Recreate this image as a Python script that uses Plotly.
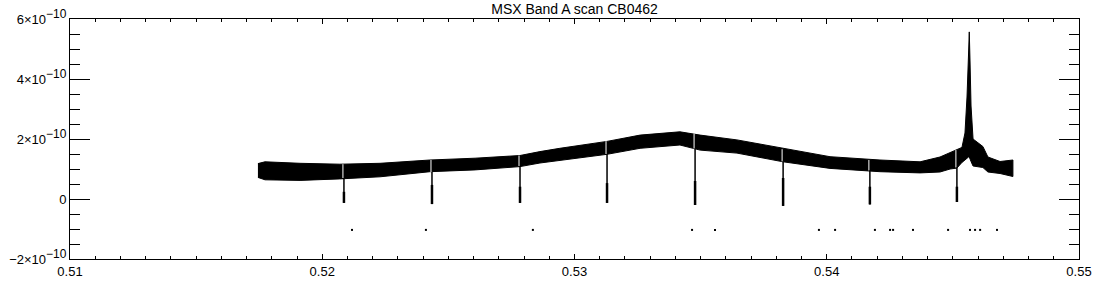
import plotly.graph_objects as go

SCALE = 1e-10  # values below are in units of 1e-10

# Envelope of the noisy scan (wavelength, upper edge, lower edge)
band_x = [0.51745, 0.51773, 0.51912, 0.52070, 0.52229, 0.52427, 0.52606, 0.52784,
          0.52863, 0.52942, 0.53129, 0.53260, 0.53418, 0.53498, 0.53644, 0.53827,
          0.54013, 0.54211, 0.54370, 0.54449, 0.54489, 0.54516, 0.54536, 0.54548,
          0.54556, 0.54562, 0.54565, 0.54568, 0.54572, 0.54580, 0.54600, 0.54619,
          0.54639, 0.54687, 0.54738]
band_upper = [1.18, 1.24, 1.19, 1.16, 1.19, 1.30, 1.36, 1.45,
              1.58, 1.69, 1.92, 2.13, 2.24, 2.13, 1.97, 1.69,
              1.41, 1.30, 1.24, 1.40, 1.55, 1.63, 1.72, 2.20,
              3.40, 4.80, 5.57, 4.60, 3.10, 2.00, 1.88, 1.75,
              1.40, 1.25, 1.30]
band_lower = [0.72, 0.64, 0.62, 0.67, 0.74, 0.91, 0.97, 1.08,
              1.20, 1.30, 1.49, 1.69, 1.80, 1.63, 1.53, 1.24,
              1.02, 0.91, 0.87, 0.90, 1.00, 1.03, 1.22, 1.30,
              1.35, 1.40, 1.40, 1.35, 1.25, 1.10, 1.07, 1.05,
              0.90, 0.85, 0.75]

# Downward spikes
spike_x = [0.52086, 0.52435, 0.52784, 0.53129, 0.53478, 0.53827, 0.54171, 0.54516]
spike_top = [0.70, 0.90, 1.10, 1.50, 1.68, 1.25, 0.95, 1.05]
spike_band_top = [1.16, 1.30, 1.45, 1.93, 2.18, 1.66, 1.30, 1.63]
spike_thick_top = [0.24, 0.47, 0.41, 0.53, 0.60, 0.70, 0.41, 0.41]
spike_bottom = [-0.13, -0.17, -0.13, -0.13, -0.20, -0.23, -0.18, -0.10]

# Isolated low points
dot_x = [0.52118, 0.52411, 0.52835, 0.53466, 0.53557, 0.53969, 0.54033, 0.54191,
         0.54251, 0.54263, 0.54342, 0.54481, 0.54568, 0.54588, 0.54608, 0.54675]
dot_y = [-1.03] * len(dot_x)

x_ticks = [0.51, 0.52, 0.53, 0.54, 0.55]
x_ticktext = ["0.51", "0.52", "0.53", "0.54", "0.55"]
y_ticks = [-2, 0, 2, 4, 6]
SUP = "<sup><span style='font-size:12px'>\u221210</span></sup>"
y_ticktext = ["\u22122\u00d710" + SUP, "0",
              "2\u00d710" + SUP, "4\u00d710" + SUP, "6\u00d710" + SUP]

fig = go.Figure()

# band polygon
poly_x = band_x + band_x[::-1]
poly_y = [v * SCALE for v in band_upper] + [v * SCALE for v in band_lower[::-1]]
fig.add_trace(go.Scatter(x=poly_x, y=poly_y, mode="lines", fill="toself",
                         fillcolor="black", line=dict(color="black", width=1),
                         hoverinfo="skip", showlegend=False))

# white gaps through the band at spike positions
gx, gy = [], []
for sx, lo, hi in zip(spike_x, spike_top, spike_band_top):
    gx += [sx - 0.00004, sx - 0.00004, None]
    gy += [lo * SCALE, hi * SCALE, None]
fig.add_trace(go.Scatter(x=gx, y=gy, mode="lines", line=dict(color="white", width=1),
                         hoverinfo="skip", showlegend=False))

# thin spikes
sxs, sys_ = [], []
for sx, top, bot in zip(spike_x, spike_top, spike_bottom):
    sxs += [sx, sx, None]
    sys_ += [top * SCALE, bot * SCALE, None]
fig.add_trace(go.Scatter(x=sxs, y=sys_, mode="lines", line=dict(color="black", width=1.5),
                         hoverinfo="skip", showlegend=False))

# thicker lower part of spikes
txs, tys = [], []
for sx, top, bot in zip(spike_x, spike_thick_top, spike_bottom):
    txs += [sx, sx, None]
    tys += [top * SCALE, bot * SCALE, None]
fig.add_trace(go.Scatter(x=txs, y=tys, mode="lines", line=dict(color="black", width=2.5),
                         hoverinfo="skip", showlegend=False))

# dots
fig.add_trace(go.Scatter(x=dot_x, y=[v * SCALE for v in dot_y], mode="markers",
                         marker=dict(symbol="square", size=2, color="black",
                                     line=dict(width=0)),
                         hoverinfo="skip", showlegend=False))

axis_common = dict(showline=True, linecolor="black", linewidth=1, mirror="ticks",
                   ticks="inside", tickcolor="black", tickwidth=1,
                   showgrid=False, zeroline=False, automargin=False)

fig.update_layout(
    width=1100, height=300,
    margin=dict(l=70, r=21, t=19, b=41, pad=0),
    paper_bgcolor="white", plot_bgcolor="white",
    title=dict(text="MSX Band A scan CB0462", x=0.5, xref="paper", xanchor="center",
               y=1 - 9 / 300, yanchor="middle", yref="container",
               font=dict(family="Liberation Sans", size=14, color="black")),
    xaxis=dict(range=[0.51, 0.55], tickmode="array", tickvals=x_ticks,
               ticktext=x_ticktext, ticklen=5,
               tickfont=dict(family="Liberation Sans", size=13, color="black"),
               minor=dict(tickmode="linear", tick0=0.51, dtick=0.001, ticklen=3,
                          ticks="inside", tickcolor="black"),
               **axis_common),
    yaxis=dict(range=[-2e-10, 6e-10], tickmode="array",
               tickvals=[v * SCALE for v in y_ticks], ticktext=y_ticktext, ticklen=20,
               tickfont=dict(family="Liberation Sans", size=13, color="black"),
               minor=dict(tickmode="linear", tick0=0, dtick=0.5e-10, ticklen=10,
                          ticks="inside", tickcolor="black"),
               **axis_common),
)

fig.write_html("out.html")
